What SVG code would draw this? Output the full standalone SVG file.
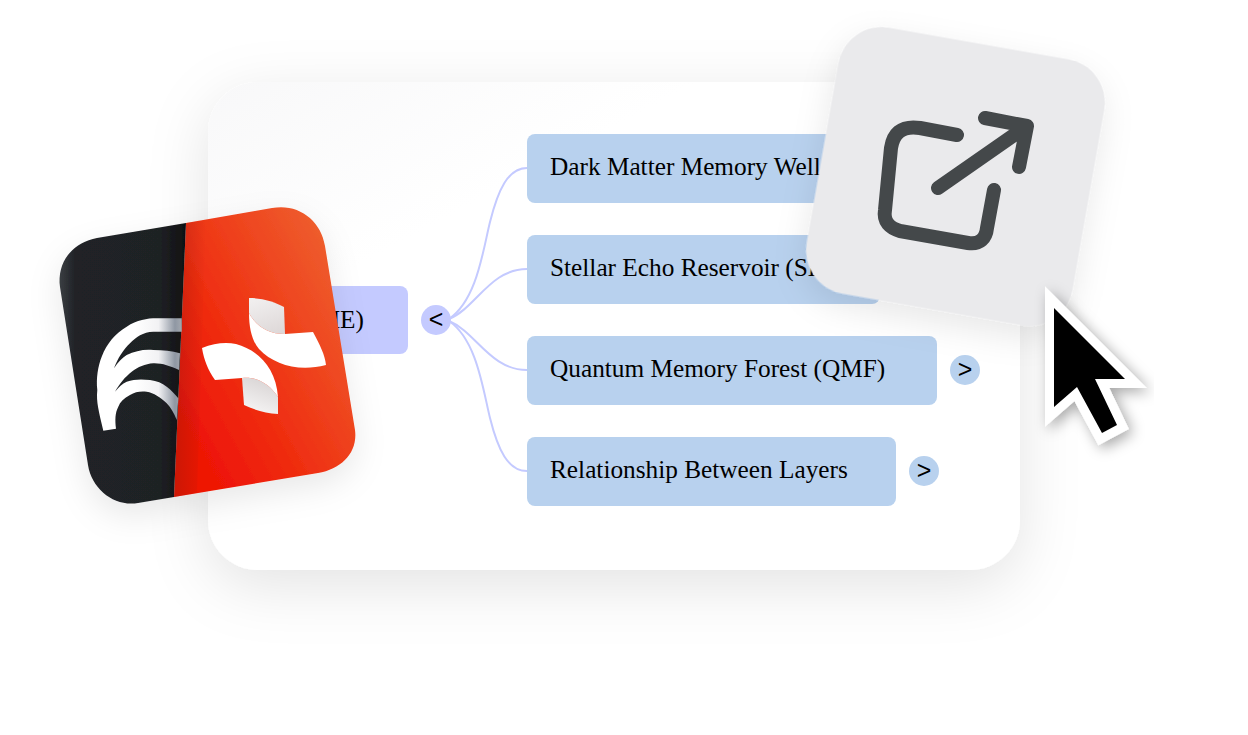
<svg xmlns="http://www.w3.org/2000/svg" width="1248" height="735" viewBox="0 0 1248 735">
<style>
.n{fill:#b8d1ee}
.r{fill:#c4caff}
.t{font-family:"Liberation Serif",serif;font-size:25.3px;fill:#000}
.b{font-family:"Liberation Sans",sans-serif;font-size:25px;fill:#000;text-anchor:middle}
.c{fill:none;stroke:#c4caff;stroke-width:2}
.i{fill:none;stroke:#44484a;stroke-width:14;stroke-linecap:round;stroke-linejoin:round}
</style>
<defs>
<filter id="cardShadow" x="-20%" y="-30%" width="140%" height="170%"><feDropShadow dx="0" dy="16" stdDeviation="30" flood-color="#000" flood-opacity="0.11"/></filter>
<filter id="softShadow" x="-30%" y="-30%" width="160%" height="160%"><feDropShadow dx="0" dy="12" stdDeviation="16" flood-color="#000" flood-opacity="0.09"/></filter>
<filter id="curShadow" x="-40%" y="-40%" width="180%" height="180%"><feDropShadow dx="4" dy="4" stdDeviation="7" flood-color="#000" flood-opacity="0.34"/></filter>
<linearGradient id="cardFill" x1="0" y1="0" x2="0.45" y2="0.5"><stop offset="0" stop-color="#f8f8f9"/><stop offset="0.6" stop-color="#fff"/></linearGradient>
<linearGradient id="redFill" x1="0.2" y1="0.9" x2="1" y2="0.2"><stop offset="0" stop-color="#ee1506"/><stop offset="0.3" stop-color="#ef2a0e"/><stop offset="1" stop-color="#ee6130"/></linearGradient>
<linearGradient id="fold" gradientUnits="userSpaceOnUse" x1="174" y1="0" x2="206" y2="0"><stop offset="0" stop-color="#8a1a10" stop-opacity="0.35"/><stop offset="1" stop-color="#8a1a10" stop-opacity="0"/></linearGradient>
<linearGradient id="darkFill" gradientUnits="userSpaceOnUse" x1="60" y1="0" x2="186" y2="0"><stop offset="0" stop-color="#3a3d42"/><stop offset="0.12" stop-color="#202226"/><stop offset="0.8" stop-color="#1f2024"/><stop offset="1" stop-color="#0f1012"/></linearGradient>
<linearGradient id="arcFill" gradientUnits="userSpaceOnUse" x1="135" y1="0" x2="182" y2="0"><stop offset="0" stop-color="#fff"/><stop offset="0.5" stop-color="#f2f2f4"/><stop offset="0.85" stop-color="#8f97a3"/><stop offset="1" stop-color="#a4a9b0"/></linearGradient>
<linearGradient id="pieceA" gradientUnits="userSpaceOnUse" x1="262" y1="298" x2="276" y2="338"><stop offset="0" stop-color="#f0eeee"/><stop offset="1" stop-color="#dcd6d6"/></linearGradient>
<linearGradient id="pieceB" gradientUnits="userSpaceOnUse" x1="262" y1="382" x2="250" y2="415"><stop offset="0" stop-color="#dcd8d8"/><stop offset="1" stop-color="#f8f7f7"/></linearGradient>
</defs>

<g id="card"><rect x="208" y="82" width="812" height="488" rx="50" fill="url(#cardFill)" filter="url(#cardShadow)"/></g>

<g id="connectors">
<path class="c" d="M449 319C477 300 483 250 490 222C498 190 508 168 527 168"/>
<path class="c" d="M449 319C476 308 490 269 527 269"/>
<path class="c" d="M449 321C476 332 490 370 527 370"/>
<path class="c" d="M449 321C477 340 483 390 490 418C498 450 508 471 527 471"/>
</g>

<g id="node-root"><rect class="r" x="250" y="286" width="158" height="68" rx="8"/><text class="t" x="364" y="328" text-anchor="end">(ME)</text></g>
<g id="toggle-root"><circle class="r" cx="436" cy="320" r="15"/><text class="b" x="436" y="328">&lt;</text></g>
<g id="node-dmmw"><rect class="n" x="527" y="134" width="340" height="69" rx="8"/><text class="t" x="550" y="175">Dark Matter Memory Well</text></g>
<g id="node-ser"><rect class="n" x="527" y="235" width="353" height="69" rx="8"/><text class="t" x="550" y="276">Stellar Echo Reservoir (SE</text></g>
<g id="node-qmf"><rect class="n" x="527" y="336" width="410" height="69" rx="8"/><text class="t" x="550" y="377">Quantum Memory Forest (QMF)</text></g>
<g id="toggle-qmf"><circle class="n" cx="965" cy="370" r="15"/><text class="b" x="965" y="378">&gt;</text></g>
<g id="node-rel"><rect class="n" x="527" y="437" width="369" height="69" rx="8"/><text class="t" x="550" y="478">Relationship Between Layers</text></g>
<g id="toggle-rel"><circle class="n" cx="924" cy="471" r="15"/><text class="b" x="924" y="479">&gt;</text></g>

<g id="app-icon">
<g filter="url(#softShadow)">
<path id="tile" fill="url(#redFill)" d="M186 223L272 208C298 203 321 220 325 246L355 430C358 452 342 469 318 473L174 497Z"/>
<path fill="url(#darkFill)" d="M186 223L97 238C72 243 57 262 60 287L88 465C92 490 115 507 138 503L174 497Z"/>
</g>
<path fill="url(#fold)" d="M186 223L206 220L197 493L174 497Z"/>
<path fill="url(#arcFill)" d="M103.3 430.700C99 412 96 402 97.300 390C96 378 98 366 101.700 356.700C107 343 115 334 126.700 326.700C137 320 147 318.300 156.700 318.300L181.700 318.300L181.700 331.700L153.300 331.700C143 332 136 337 130 343.300C123 350 118 358 114 368.300C118 362 122 358 126.700 355C135 351 144 349 153.300 350C163 350 172 351 180 353.300L179 370C170 366 162 363 153.300 363.300C145 364 138 367 131.700 371.700C125 377 120 383 115 391.700C119 387 122 384 126.700 381.700C134 379 142 379 150 380C157 381 162 383 166.700 386.700C171 390 175 394 178.300 398.300L176.700 420C174 413 171 408 166.700 403.300C160 397 154 393 146.700 391.700C140 391 135 392 130 395C124 398 120 402 118.300 406.700C115 413 115 420 116 428.700Z"/>
<path fill="url(#pieceA)" d="M249 298C262 298 275 302 284 307L285 334C268 334 256 326 249 313Z"/>
<path fill="#fff" d="M285 334L313 332C320 345 325 355 326 365C299 372 274 365 259 349C252 341 249 328 249 313C256 326 268 334 285 334Z"/>
<path fill="url(#pieceB)" d="M242 378C256 376 270 384 278 397L278 414C266 413 254 410 244 405Z"/>
<path fill="#fff" d="M202 348C214 343 226 342 236 344C258 350 276 368 278 397C270 384 256 376 242 378L215 380C208 370 204 360 202 348Z"/>
</g>

<g id="share-tile">
<rect x="820.500" y="41.500" width="270" height="270" rx="44" fill="#eaeaec" transform="rotate(10 955.500 176.500)" filter="url(#softShadow)"/>
<path class="i" d="M957 135L920 128C900 125 893 135 891 148L885 210C883 222 890 228 900 231L968 243C980 245 986 238 987 228L994 190"/>
<path class="i" d="M938 188L1027 126M985 118L1027 126L1019 167"/>
</g>

<g id="cursor"><path d="M1054 308L1125 379L1095 379L1117 425L1102 433L1077 387L1054 407Z" fill="#000" stroke="#fff" stroke-width="18" stroke-linejoin="miter" paint-order="stroke" filter="url(#curShadow)"/></g>
</svg>
